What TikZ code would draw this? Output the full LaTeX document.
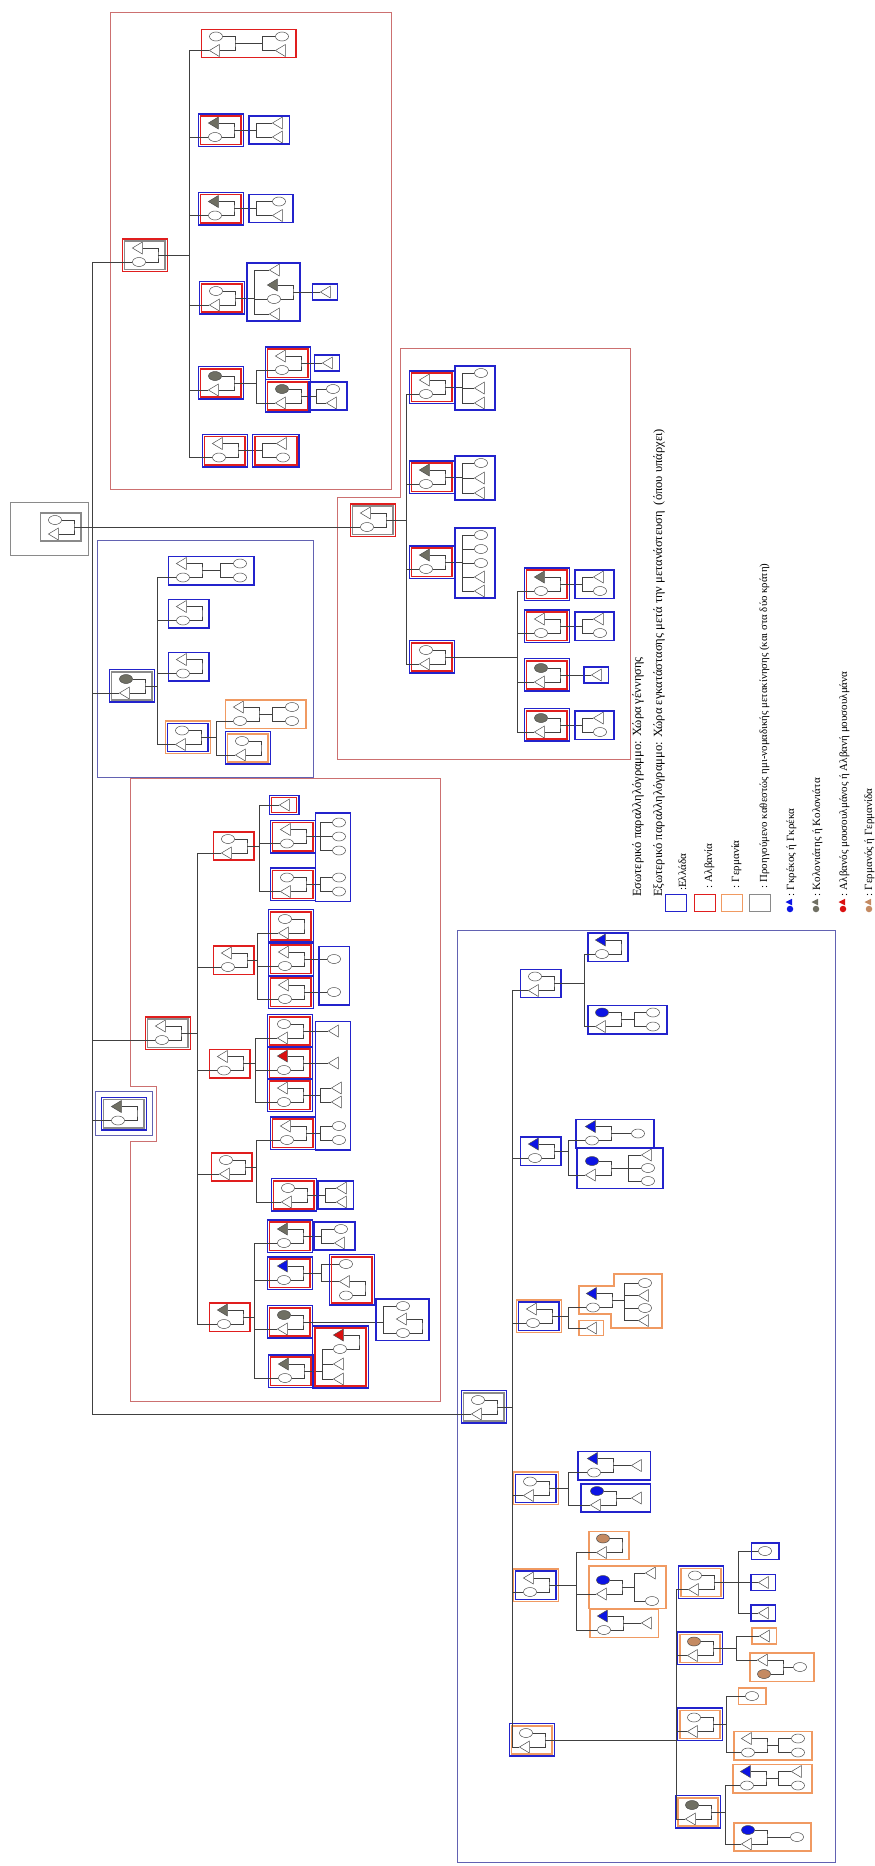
\documentclass[tikz,border=0pt]{standalone}
\usepackage{fontspec}
\setmainfont{Liberation Serif}
\usetikzlibrary{shapes.geometric}
\usetikzlibrary{fit}
\definecolor{BLUE}{HTML}{2323CC}
\definecolor{RED}{HTML}{E01E1E}
\definecolor{ORANGE}{HTML}{F09A62}
\definecolor{GREY}{HTML}{8A8A8A}
\definecolor{BLUE_F}{HTML}{0C14E4}
\definecolor{RED_F}{HTML}{DA1010}
\definecolor{GREY_F}{HTML}{6F6F63}
\definecolor{BROWN_F}{HTML}{C48A62}
\definecolor{RED_G}{HTML}{CC7070}
\definecolor{BLUE_G}{HTML}{6262B2}
\tikzset{
	every node/.style = {font=\fontsize{11}{13}\selectfont},
	pers/.style = {draw=black!70, line width=.5pt, fill=white, inner sep=0pt},
	fw/.style = {pers, ellipse, minimum width=13pt, minimum height=9pt},
	fg/.style = {fw, fill=GREY_F},
	fb/.style = {fw, fill=BLUE_F},
	fo/.style = {fw, fill=BROWN_F},
	mw/.style = {pers, isosceles triangle, shape border rotate=180,
		isosceles triangle stretches, minimum width=12pt, minimum height=10pt},
	mg/.style = {mw, fill=GREY_F},
	mb/.style = {mw, fill=BLUE_F},
	mr/.style = {mw, fill=RED_F},
	famb/.style = {draw=#1, line width=1.5pt, inner xsep=7pt, inner ysep=2.5pt},
	outb/.style = {draw=#1, line width=1.5pt, inner sep=1.6pt},
	grpb/.style = {draw=#1, line width=.9pt},
	ln/.style = {draw=black!75, line width=.7pt},
	lgtxt/.style = {rotate=90, anchor=base west, inner sep=0pt},
	lghead/.style = {lgtxt, font=\fontsize{12.5}{15}\selectfont},
	lgbox/.style = {draw=#1, line width=1.5pt, minimum width=21pt, minimum height=17pt, inner sep=0pt},
	lgf/.style = {circle, fill=#1, minimum size=6.5pt, inner sep=0pt},
	lgm/.style = {isosceles triangle, shape border rotate=180, isosceles triangle stretches,
		fill=#1, minimum width=6.5pt, minimum height=6.5pt, inner sep=0pt},
}
% couple: name, x, y, top person, bottom person
\newcommand{\cpl}[5]{%
	\node[#4] (#1t) at (#2,#3-7) {};
	\node[#5] (#1b) at (#2,#3+7) {};
	\coordinate (#1) at (#2+19,#3);
	\draw[ln] (#1t) -| (#1) |- (#1b);}
\newcommand{\onebox}[4][]{\node[famb=#3, #1, fit=#4] (#2) {};}
\newcommand{\twobox}[5][]{\node[famb=#3, #1, fit=#5] (#2) {};
	\node[outb=#4, fit=(#2)] (#2o) {};}
\newcommand{\lnk}[2]{\draw[ln] (#1) |- (#2);}

\begin{document}
\begin{tikzpicture}[x=1pt, y=-1pt]
	\path[use as bounding box, fill=white] (0,0) rectangle (875,1866);
	% group frames
	\draw[grpb=RED_G] (110,12) rectangle (391,489);
	\draw[grpb=RED_G] (400,348) -- (630,348) -- (630,759) -- (337,759) -- (337,497) -- (400,497) -- cycle;
	\draw[grpb=BLUE_G] (97,540) rectangle (313,777);
	\draw[grpb=RED_G] (130,778) -- (440,778) -- (440,1401) -- (130,1401) -- (130,1141)
		-- (156,1141) -- (156,1086) -- (130,1086) -- cycle;
	\draw[grpb=BLUE_G] (457,930) rectangle (835,1862);

	% root couple
	\cpl{root}{55}{527}{fw}{mw}
	\onebox{rootin}{GREY}{(roott)(rootb)(root)}
	\draw[grpb=GREY] ([shift={(-29.5,-10)}]rootin.north west) rectangle ([shift={(7,13.5)}]rootin.south east);
	\coordinate (trunk) at (92,527);
	\draw[ln] (root) -- (trunk);

	% top red group
	\cpl{g0}{139}{255}{mw}{fw}
	\twobox{g0in}{GREY}{RED}{(g0t)(g0b)(g0)}
	\coordinate (g0k) at (189,255);
	\draw[ln] (g0) -- (g0k);
	\lnk{trunk}{g0b}
	\cpl{c01}{216}{43.5}{fw}{mw}
	\node[fw] (c01x) at (282,36.5) {};
	\node[mw] (c01y) at (282,50.5) {};
	\coordinate (c01k) at (262,43.5);
	\draw[ln] (c01) -- (c01k);
	\lnk{c01k}{c01x}\lnk{c01k}{c01y}
	\onebox{c01in}{RED}{(c01t)(c01b)(c01x)(c01y)}
	\cpl{c02}{215}{130}{mg}{fw}
	\twobox{c02in}{RED}{BLUE}{(c02t)(c02b)(c02)}
	\node[mw] (c02x) at (279,123) {};
	\node[mw] (c02y) at (279,137) {};
	\coordinate (c02k) at (256,130);
	\draw[ln] (c02) -- (c02k);
	\lnk{c02k}{c02x}\lnk{c02k}{c02y}
	\onebox{c02kb}{BLUE}{(c02k)(c02x)(c02y)}
	\cpl{c03}{215}{208.5}{mg}{fw}
	\twobox{c03in}{RED}{BLUE}{(c03t)(c03b)(c03)}
	\node[fw] (c03x) at (279,201.5) {};
	\node[mw] (c03y) at (279,215.5) {};
	\coordinate (c03k) at (256,208.5);
	\draw[ln] (c03) -- (c03k);
	\lnk{c03k}{c03x}\lnk{c03k}{c03y}
	\onebox{c03kb}{BLUE}{(c03k)(c03x)(c03y)}
	\cpl{c04}{216}{298}{fw}{mw}
	\twobox{c04in}{RED}{BLUE}{(c04t)(c04b)(c04)}
	\coordinate (c04k) at (254,298);
	\draw[ln] (c04) -- (c04k);
	\node[mw] (c04x) at (276,270) {};
	\cpl{c04p}{274}{292}{mg}{fw}
	\node[mw] (c04y) at (276,314) {};
	\lnk{c04k}{c04x}\lnk{c04k}{c04pb}\lnk{c04k}{c04y}
	\onebox{c04kb}{BLUE}{(c04k)(c04x)(c04pt)(c04pb)(c04p)(c04y)}
	\node[mw] (c04pz) at (327,292) {};
	\draw[ln] (c04p) -- (c04pz);
	\onebox[inner ysep=3.5pt]{c04pzb}{BLUE}{(c04pz)}
	\cpl{c05}{215}{383}{fg}{mw}
	\twobox{c05in}{RED}{BLUE}{(c05t)(c05b)(c05)}
	\coordinate (c05k) at (256,383);
	\draw[ln] (c05) -- (c05k);
	\cpl{c05p}{282}{363}{mw}{fw}
	\twobox{c05pin}{RED}{BLUE}{(c05pt)(c05pb)(c05p)}
	\node[mw] (c05pz) at (329,363) {};
	\draw[ln] (c05p) -- (c05pz);
	\onebox[inner ysep=3.5pt]{c05pzb}{BLUE}{(c05pz)}
	\cpl{c05q}{282}{396}{fg}{mw}
	\twobox{c05qin}{RED}{BLUE}{(c05qt)(c05qb)(c05q)}
	\node[fw] (c05qx) at (333,389) {};
	\node[mw] (c05qy) at (333,403) {};
	\coordinate (c05qk) at (316,396);
	\draw[ln] (c05q) -- (c05qk);
	\lnk{c05qk}{c05qx}\lnk{c05qk}{c05qy}
	\onebox{c05qkb}{BLUE}{(c05qk)(c05qx)(c05qy)}
	\lnk{c05k}{c05pb}\lnk{c05k}{c05qb}
	\cpl{c06}{219}{450.5}{mw}{fw}
	\twobox{c06in}{RED}{BLUE}{(c06t)(c06b)(c06)}
	\node[mw] (c06x) at (283,443.5) {};
	\node[fw] (c06y) at (283,457.5) {};
	\coordinate (c06k) at (262,450.5);
	\draw[ln] (c06) -- (c06k);
	\lnk{c06k}{c06x}\lnk{c06k}{c06y}
	\twobox{c06kb}{RED}{BLUE}{(c06k)(c06x)(c06y)}
	\lnk{g0k}{c01b}\lnk{g0k}{c02b}\lnk{g0k}{c03b}
	\lnk{g0k}{c04b}\lnk{g0k}{c05b}\lnk{g0k}{c06b}

	% upper right red group
	\cpl{g3}{367}{520}{mw}{fw}
	\twobox{g3in}{GREY}{RED}{(g3t)(g3b)(g3)}
	\coordinate (g3k) at (406,520);
	\draw[ln] (g3) -- (g3k);
	\lnk{trunk}{g3b}
	\cpl{c31}{426}{387}{mw}{fw}
	\twobox{c31in}{RED}{BLUE}{(c31t)(c31b)(c31)}
	\coordinate (c31k) at (462,387);
	\draw[ln] (c31) -- (c31k);
	\node[fw] (c31x) at (481,373) {};
	\node[mw] (c31y) at (481,388) {};
	\node[mw] (c31z) at (481,403) {};
	\lnk{c31k}{c31x}\lnk{c31k}{c31y}\lnk{c31k}{c31z}
	\onebox{c31kb}{BLUE}{(c31k)(c31x)(c31y)(c31z)}
	\cpl{c32}{426}{477}{mg}{fw}
	\twobox{c32in}{RED}{BLUE}{(c32t)(c32b)(c32)}
	\coordinate (c32k) at (462,477);
	\draw[ln] (c32) -- (c32k);
	\node[fw] (c32x) at (481,463) {};
	\node[mw] (c32y) at (481,478) {};
	\node[mw] (c32z) at (481,493) {};
	\lnk{c32k}{c32x}\lnk{c32k}{c32y}\lnk{c32k}{c32z}
	\onebox{c32kb}{BLUE}{(c32k)(c32x)(c32y)(c32z)}
	\cpl{c33}{426}{562}{mg}{fw}
	\twobox{c33in}{RED}{BLUE}{(c33t)(c33b)(c33)}
	\coordinate (c33k) at (462,562);
	\draw[ln] (c33) -- (c33k);
	\node[fw] (c33v) at (481,535) {};
	\node[fw] (c33w) at (481,549) {};
	\node[fw] (c33x) at (481,563) {};
	\node[mw] (c33y) at (481,577) {};
	\node[mw] (c33z) at (481,591) {};
	\lnk{c33k}{c33v}\lnk{c33k}{c33w}\lnk{c33k}{c33x}\lnk{c33k}{c33y}\lnk{c33k}{c33z}
	\onebox{c33kb}{BLUE}{(c33k)(c33v)(c33z)(c33x)}
	\cpl{c34}{426}{657}{fw}{mw}
	\twobox{c34in}{RED}{BLUE}{(c34t)(c34b)(c34)}
	\coordinate (c34k) at (517,657);
	\draw[ln] (c34) -- (c34k);
	\cpl{c341}{541}{584}{mg}{fw}
	\twobox{c341in}{RED}{BLUE}{(c341t)(c341b)(c341)}
	\node[mw] (c341x) at (600,577) {};
	\node[fw] (c341y) at (600,591) {};
	\coordinate (c341k) at (582,584);
	\draw[ln] (c341) -- (c341k);
	\lnk{c341k}{c341x}\lnk{c341k}{c341y}
	\onebox{c341kb}{BLUE}{(c341k)(c341x)(c341y)}
	\cpl{c342}{541}{626}{mw}{fw}
	\twobox{c342in}{RED}{BLUE}{(c342t)(c342b)(c342)}
	\node[mw] (c342x) at (600,619) {};
	\node[fw] (c342y) at (600,633) {};
	\coordinate (c342k) at (582,626);
	\draw[ln] (c342) -- (c342k);
	\lnk{c342k}{c342x}\lnk{c342k}{c342y}
	\onebox{c342kb}{BLUE}{(c342k)(c342x)(c342y)}
	\cpl{c343}{541}{675}{fg}{mw}
	\twobox{c343in}{RED}{BLUE}{(c343t)(c343b)(c343)}
	\node[mw] (c343z) at (598,675) {};
	\draw[ln] (c343) -- (c343z);
	\onebox[inner ysep=3.5pt]{c343zb}{BLUE}{(c343z)}
	\cpl{c344}{541}{725}{fg}{mw}
	\twobox{c344in}{RED}{BLUE}{(c344t)(c344b)(c344)}
	\node[mw] (c344x) at (600,718) {};
	\node[fw] (c344y) at (600,732) {};
	\coordinate (c344k) at (582,725);
	\draw[ln] (c344) -- (c344k);
	\lnk{c344k}{c344x}\lnk{c344k}{c344y}
	\onebox{c344kb}{BLUE}{(c344k)(c344x)(c344y)}
	\lnk{c34k}{c341b}\lnk{c34k}{c342b}\lnk{c34k}{c343b}\lnk{c34k}{c344b}
	\lnk{g3k}{c31b}\lnk{g3k}{c32b}\lnk{g3k}{c33b}\lnk{g3k}{c34b}

	% blue group
	\cpl{g2}{126}{686}{fg}{mw}
	\twobox{g2in}{GREY}{BLUE}{(g2t)(g2b)(g2)}
	\coordinate (g2k) at (157,686);
	\draw[ln] (g2) -- (g2k);
	\lnk{trunk}{g2b}
	\cpl{c21}{183}{570.5}{mw}{fw}
	\node[fw] (c21x) at (240,563.5) {};
	\node[fw] (c21y) at (240,577.5) {};
	\coordinate (c21k) at (220,570.5);
	\draw[ln] (c21) -- (c21k);
	\lnk{c21k}{c21x}\lnk{c21k}{c21y}
	\onebox{c21in}{BLUE}{(c21t)(c21b)(c21x)(c21y)}
	\cpl{c22}{183}{613.5}{mw}{fw}
	\onebox{c22in}{BLUE}{(c22t)(c22b)(c22)}
	\cpl{c23}{183}{666.5}{mw}{fw}
	\onebox{c23in}{BLUE}{(c23t)(c23b)(c23)}
	\cpl{c24}{182}{737.5}{fw}{mw}
	\twobox{c24in}{BLUE}{ORANGE}{(c24t)(c24b)(c24)}
	\coordinate (c24k) at (216,737.5);
	\draw[ln] (c24) -- (c24k);
	\cpl{c24p}{240}{714}{mw}{fw}
	\node[fw] (c24px) at (292,707) {};
	\node[fw] (c24py) at (292,721) {};
	\coordinate (c24pk) at (272,714);
	\draw[ln] (c24p) -- (c24pk);
	\lnk{c24pk}{c24px}\lnk{c24pk}{c24py}
	\onebox{c24pin}{ORANGE}{(c24pt)(c24pb)(c24px)(c24py)}
	\cpl{c24q}{242}{748}{fw}{mw}
	\twobox{c24qin}{ORANGE}{BLUE}{(c24qt)(c24qb)(c24q)}
	\lnk{c24k}{c24pb}\lnk{c24k}{c24qb}
	\lnk{g2k}{c21b}\lnk{g2k}{c22b}\lnk{g2k}{c23b}\lnk{g2k}{c24b}

	% single family by the trunk
	\cpl{g1}{118}{1113.5}{mg}{fw}
	\twobox{g1in}{GREY}{BLUE}{(g1t)(g1b)(g1)}
	\node[grpb=BLUE_G, inner sep=5pt, fit=(g1ino)] (g1fr) {};
	\lnk{trunk}{g1b}

	% lower left red group
	\cpl{g4}{162}{1033}{mw}{fw}
	\twobox{g4in}{GREY}{RED}{(g4t)(g4b)(g4)}
	\coordinate (g4k) at (197,1033);
	\draw[ln] (g4) -- (g4k);
	\lnk{trunk}{g4b}
	\cpl{g41}{228}{846}{fw}{mw}
	\onebox{g41in}{RED}{(g41t)(g41b)(g41)}
	\coordinate (g41k) at (259,846);
	\draw[ln] (g41) -- (g41k);
	\node[mw] (k411) at (286,805) {};
	\twobox[inner ysep=3pt]{k411in}{RED}{BLUE}{(k411)}
	\cpl{c412}{287}{836.5}{mw}{fw}
	\twobox{c412in}{RED}{BLUE}{(c412t)(c412b)(c412)}
	\coordinate (c412k) at (320,836.5);
	\draw[ln] (c412) -- (c412k);
	\node[fw] (c412x) at (339,822.5) {};
	\node[fw] (c412y) at (339,836.5) {};
	\node[fw] (c412z) at (339,850.5) {};
	\lnk{c412k}{c412x}\lnk{c412k}{c412y}\lnk{c412k}{c412z}
	\cpl{c413}{287}{884.5}{fw}{mw}
	\twobox{c413in}{RED}{BLUE}{(c413t)(c413b)(c413)}
	\coordinate (c413k) at (320,884.5);
	\draw[ln] (c413) -- (c413k);
	\node[fw] (c413x) at (339,877.5) {};
	\node[fw] (c413y) at (339,891.5) {};
	\lnk{c413k}{c413x}\lnk{c413k}{c413y}
	\onebox[inner xsep=4.5pt, inner ysep=5pt]{g41kb}{BLUE}{(c412k)(c412x)(c412z)(c413k)(c413x)(c413y)}
	\lnk{g41k}{k411}\lnk{g41k}{c412b}\lnk{g41k}{c413b}
	\cpl{g42}{228}{960}{mw}{fw}
	\onebox{g42in}{RED}{(g42t)(g42b)(g42)}
	\coordinate (g42k) at (257,960);
	\draw[ln] (g42) -- (g42k);
	\cpl{c421}{285}{926}{fw}{mw}
	\twobox{c421in}{RED}{BLUE}{(c421t)(c421b)(c421)}
	\cpl{c422}{285}{959}{mw}{fw}
	\twobox{c422in}{RED}{BLUE}{(c422t)(c422b)(c422)}
	\node[fw] (c422z) at (334,959) {};
	\draw[ln] (c422) -- (c422z);
	\cpl{c423}{285}{992}{mw}{fw}
	\twobox{c423in}{RED}{BLUE}{(c423t)(c423b)(c423)}
	\node[fw] (c423z) at (334,992) {};
	\draw[ln] (c423) -- (c423z);
	\onebox[inner xsep=8.5pt, inner ysep=8pt]{g42kb}{BLUE}{(c422z)(c423z)}
	\lnk{g42k}{c421b}\lnk{g42k}{c422b}\lnk{g42k}{c423b}
	\cpl{g43}{224}{1063.5}{mw}{fw}
	\onebox{g43in}{RED}{(g43t)(g43b)(g43)}
	\coordinate (g43k) at (255,1063.5);
	\draw[ln] (g43) -- (g43k);
	\cpl{c431}{284}{1031}{fw}{mw}
	\twobox{c431in}{RED}{BLUE}{(c431t)(c431b)(c431)}
	\node[mw] (c431z) at (335,1031) {};
	\draw[ln] (c431) -- (c431z);
	\cpl{c432}{284}{1063}{mr}{fw}
	\twobox{c432in}{RED}{BLUE}{(c432t)(c432b)(c432)}
	\node[mw] (c432z) at (335,1063) {};
	\draw[ln] (c432) -- (c432z);
	\cpl{c433}{284}{1095}{mw}{fw}
	\twobox{c433in}{RED}{BLUE}{(c433t)(c433b)(c433)}
	\coordinate (c433k) at (320,1095);
	\draw[ln] (c433) -- (c433k);
	\node[mw] (c433x) at (338,1088) {};
	\node[mw] (c433y) at (338,1102) {};
	\lnk{c433k}{c433x}\lnk{c433k}{c433y}
	\lnk{g43k}{c431b}\lnk{g43k}{c432b}\lnk{g43k}{c433b}
	\cpl{g44}{226}{1167}{fw}{mw}
	\onebox{g44in}{RED}{(g44t)(g44b)(g44)}
	\coordinate (g44k) at (256,1167);
	\draw[ln] (g44) -- (g44k);
	\cpl{c441}{287}{1133}{mw}{fw}
	\twobox{c441in}{RED}{BLUE}{(c441t)(c441b)(c441)}
	\coordinate (c441k) at (320,1133);
	\draw[ln] (c441) -- (c441k);
	\node[fw] (c441x) at (339,1126) {};
	\node[fw] (c441y) at (339,1140) {};
	\lnk{c441k}{c441x}\lnk{c441k}{c441y}
	\onebox[inner xsep=4.5pt, inner ysep=5pt]{g43kb}{BLUE}{(c431z)(c432z)(c433k)(c433x)(c433y)(c441k)(c441x)(c441y)}
	\cpl{c442}{288}{1195}{fw}{mw}
	\twobox{c442in}{RED}{BLUE}{(c442t)(c442b)(c442)}
	\coordinate (c442k) at (325,1195);
	\draw[ln] (c442) -- (c442k);
	\node[mw] (c442x) at (343,1188) {};
	\node[mw] (c442y) at (343,1202) {};
	\lnk{c442k}{c442x}\lnk{c442k}{c442y}
	\onebox{c442kb}{BLUE}{(c442k)(c442x)(c442y)}
	\lnk{g44k}{c441b}\lnk{g44k}{c442b}
	\cpl{g45}{224}{1317}{mg}{fw}
	\onebox{g45in}{RED}{(g45t)(g45b)(g45)}
	\coordinate (g45k) at (254,1317);
	\draw[ln] (g45) -- (g45k);
	\cpl{c451}{284}{1236}{mg}{fw}
	\twobox{c451in}{RED}{BLUE}{(c451t)(c451b)(c451)}
	\coordinate (c451k) at (321,1236);
	\draw[ln] (c451) -- (c451k);
	\node[fw] (c451x) at (341,1229) {};
	\node[mw] (c451y) at (341,1243) {};
	\lnk{c451k}{c451x}\lnk{c451k}{c451y}
	\onebox{c451kb}{BLUE}{(c451k)(c451x)(c451y)}
	\cpl{c452}{284}{1273}{mb}{fw}
	\twobox{c452in}{RED}{BLUE}{(c452t)(c452b)(c452)}
	\coordinate (c452k) at (321,1273);
	\draw[ln] (c452) -- (c452k);
	\node[fw] (c452x) at (346,1264) {};
	\cpl{c452p}{346}{1288.5}{mw}{fw}
	\lnk{c452k}{c452x}\lnk{c452k}{c452pt}
	\twobox{c452kb}{RED}{BLUE}{(c452x)(c452pt)(c452pb)(c452p)}
	\cpl{c453}{284}{1322}{fg}{mw}
	\twobox{c453in}{RED}{BLUE}{(c453t)(c453b)(c453)}
	\coordinate (c453k) at (383,1322);
	\draw[ln] (c453) -- (c453k);
	\node[fw] (c453x) at (403,1306) {};
	\cpl{c453p}{403}{1326}{mw}{fw}
	\lnk{c453k}{c453x}\lnk{c453k}{c453pb}
	\onebox{c453kb}{BLUE}{(c453k)(c453x)(c453pt)(c453pb)(c453p)}
	\cpl{c454}{285}{1371}{mg}{fw}
	\twobox{c454in}{RED}{BLUE}{(c454t)(c454b)(c454)}
	\coordinate (c454k) at (322,1371);
	\draw[ln] (c454) -- (c454k);
	\cpl{c454p}{340}{1342}{mr}{fw}
	\node[mw] (c454x) at (340,1364) {};
	\node[mw] (c454y) at (340,1379) {};
	\lnk{c454k}{c454pb}\lnk{c454k}{c454x}\lnk{c454k}{c454y}
	\twobox{c454kb}{RED}{BLUE}{(c454k)(c454pt)(c454p)(c454y)}
	\lnk{g45k}{c451b}\lnk{g45k}{c452b}\lnk{g45k}{c453b}\lnk{g45k}{c454b}
	\lnk{g4k}{g41b}\lnk{g4k}{g42b}\lnk{g4k}{g43b}\lnk{g4k}{g44b}\lnk{g4k}{g45b}

	% bottom blue group
	\cpl{g5}{478}{1407}{fw}{mw}
	\twobox{g5in}{GREY}{BLUE}{(g5t)(g5b)(g5)}
	\coordinate (g5k) at (512,1407);
	\draw[ln] (g5) -- (g5k);
	\lnk{trunk}{g5b}
	\cpl{c51}{535}{983.5}{fw}{mw}
	\onebox{c51in}{BLUE}{(c51t)(c51b)(c51)}
	\coordinate (c51k) at (584,983.5);
	\draw[ln] (c51) -- (c51k);
	\cpl{c511}{602}{947}{mb}{fw}
	\onebox{c511in}{BLUE}{(c511t)(c511b)(c511)}
	\cpl{c512}{602}{1019.5}{fb}{mw}
	\node[fw] (c512x) at (653,1012.5) {};
	\node[fw] (c512y) at (653,1026.5) {};
	\coordinate (c512k) at (634,1019.5);
	\draw[ln] (c512) -- (c512k);
	\lnk{c512k}{c512x}\lnk{c512k}{c512y}
	\onebox{c512in}{BLUE}{(c512t)(c512b)(c512x)(c512y)}
	\lnk{c51k}{c511b}\lnk{c51k}{c512b}
	\cpl{c52}{535}{1151}{mb}{fw}
	\onebox{c52in}{BLUE}{(c52t)(c52b)(c52)}
	\coordinate (c52k) at (568,1151);
	\draw[ln] (c52) -- (c52k);
	\cpl{c521}{592}{1133.5}{mb}{fw}
	\node[fw] (c521z) at (638,1133.5) {};
	\draw[ln] (c521) -- (c521z);
	\onebox[inner xsep=9pt]{c521in}{BLUE}{(c521t)(c521b)(c521z)}
	\cpl{c522}{592}{1168}{fb}{mw}
	\node[mw] (c522x) at (648,1155) {};
	\node[fw] (c522y) at (648,1168) {};
	\node[fw] (c522z) at (648,1181) {};
	\coordinate (c522k) at (628,1168);
	\draw[ln] (c522) -- (c522k);
	\lnk{c522k}{c522x}\lnk{c522k}{c522y}\lnk{c522k}{c522z}
	\onebox[inner xsep=8pt]{c522in}{BLUE}{(c522t)(c522b)(c522x)(c522z)}
	\lnk{c52k}{c521b}\lnk{c52k}{c522b}
	\cpl{c53}{533}{1316}{mw}{fw}
	\twobox{c53in}{BLUE}{ORANGE}{(c53t)(c53b)(c53)}
	\coordinate (c53k) at (568,1316);
	\draw[ln] (c53) -- (c53k);
	\cpl{c531}{593}{1300.5}{mb}{fw}
	\coordinate (c531k) at (624,1300.5);
	\draw[ln] (c531) -- (c531k);
	\node[fw] (c531v) at (645,1283) {};
	\node[mw] (c531w) at (645,1295.5) {};
	\node[fw] (c531x) at (645,1308) {};
	\node[mw] (c531y) at (645,1320.5) {};
	\lnk{c531k}{c531v}\lnk{c531k}{c531w}\lnk{c531k}{c531x}\lnk{c531k}{c531y}
	\draw[famb=ORANGE] (579,1286) -- (614,1286) -- (614,1274) -- (662,1274) -- (662,1328)
		-- (611,1328) -- (611,1314) -- (579,1314) -- cycle;
	\node[mw] (k532) at (593,1328) {};
	\onebox[inner ysep=3pt]{k532in}{ORANGE}{(k532)}
	\lnk{c53k}{c531b}\lnk{c53k}{k532}
	\cpl{c54}{530}{1488.5}{fw}{mw}
	\twobox{c54in}{BLUE}{ORANGE}{(c54t)(c54b)(c54)}
	\coordinate (c54k) at (568,1488.5);
	\draw[ln] (c54) -- (c54k);
	\cpl{c541}{594}{1465.5}{mb}{fw}
	\node[mw] (c541z) at (638,1465.5) {};
	\draw[ln] (c541) -- (c541z);
	\onebox[inner xsep=9pt]{c541in}{BLUE}{(c541t)(c541b)(c541z)}
	\cpl{c542}{597}{1498}{fb}{mw}
	\node[mw] (c542z) at (638,1498) {};
	\draw[ln] (c542) -- (c542z);
	\onebox[inner xsep=9pt]{c542in}{BLUE}{(c542t)(c542b)(c542z)}
	\lnk{c54k}{c541b}\lnk{c54k}{c542b}
	\cpl{c55}{530}{1585}{mw}{fw}
	\twobox{c55in}{BLUE}{ORANGE}{(c55t)(c55b)(c55)}
	\coordinate (c55k) at (576,1585);
	\draw[ln] (c55) -- (c55k);
	\cpl{c551}{603}{1545.5}{fo}{mw}
	\onebox{c551in}{ORANGE}{(c551t)(c551b)(c551)}
	\cpl{c552}{603}{1587}{fb}{mw}
	\node[mw] (c552x) at (652,1573) {};
	\node[fw] (c552y) at (652,1601) {};
	\coordinate (c552k) at (634,1587);
	\draw[ln] (c552) -- (c552k);
	\lnk{c552k}{c552x}\lnk{c552k}{c552y}
	\onebox{c552in}{ORANGE}{(c552t)(c552b)(c552x)(c552y)}
	\cpl{c553}{604}{1623}{mb}{fw}
	\node[mw] (c553z) at (648,1623) {};
	\draw[ln] (c553) -- (c553z);
	\onebox{c553in}{ORANGE}{(c553t)(c553b)(c553z)}
	\lnk{c55k}{c551b}\lnk{c55k}{c552b}\lnk{c55k}{c553b}
	\cpl{c56}{526}{1740}{fw}{mw}
	\twobox{c56in}{ORANGE}{BLUE}{(c56t)(c56b)(c56)}
	\coordinate (c56k) at (676,1740);
	\draw[ln] (c56) -- (c56k);
	\cpl{c561}{695}{1582.5}{fw}{mw}
	\twobox{c561in}{ORANGE}{BLUE}{(c561t)(c561b)(c561)}
	\coordinate (c561k) at (738,1582.5);
	\draw[ln] (c561) -- (c561k);
	\node[fw] (c561x) at (765,1551) {};
	\node[mw] (c561y) at (765,1582.5) {};
	\node[mw] (c561z) at (765,1613) {};
	\lnk{c561k}{c561x}\lnk{c561k}{c561y}\lnk{c561k}{c561z}
	\onebox[inner ysep=3.5pt]{c561xb}{BLUE}{(c561x)}
	\onebox[inner ysep=3.5pt]{c561yb}{BLUE}{(c561y)}
	\onebox[inner ysep=3.5pt]{c561zb}{BLUE}{(c561z)}
	\cpl{c562}{694}{1648.5}{fo}{mw}
	\twobox{c562in}{ORANGE}{BLUE}{(c562t)(c562b)(c562)}
	\coordinate (c562k) at (736,1648.5);
	\draw[ln] (c562) -- (c562k);
	\node[mw] (c562x) at (766,1636) {};
	\onebox[inner ysep=3.5pt]{c562xb}{ORANGE}{(c562x)}
	\cpl{c562p}{764}{1667}{mw}{fo}
	\node[fw] (c562pz) at (800,1667) {};
	\draw[ln] (c562p) -- (c562pz);
	\onebox{c562pin}{ORANGE}{(c562pt)(c562pb)(c562pz)}
	\lnk{c562k}{c562x}\lnk{c562k}{c562pt}
	\cpl{c563}{694}{1724.5}{fw}{mw}
	\twobox{c563in}{ORANGE}{BLUE}{(c563t)(c563b)(c563)}
	\coordinate (c563k) at (726,1724.5);
	\draw[ln] (c563) -- (c563k);
	\node[fw] (c563x) at (752,1696) {};
	\onebox[inner ysep=3.5pt]{c563xb}{ORANGE}{(c563x)}
	\cpl{c563p}{748}{1745.5}{mw}{fw}
	\coordinate (c563pk) at (778,1745.5);
	\draw[ln] (c563p) -- (c563pk);
	\node[fw] (c563px) at (798,1738.5) {};
	\node[fw] (c563py) at (798,1752.5) {};
	\lnk{c563pk}{c563px}\lnk{c563pk}{c563py}
	\onebox{c563pin}{ORANGE}{(c563pt)(c563pb)(c563px)(c563py)}
	\lnk{c563k}{c563x}\lnk{c563k}{c563pb}
	\cpl{c564}{692}{1812}{fg}{mw}
	\twobox{c564in}{ORANGE}{BLUE}{(c564t)(c564b)(c564)}
	\coordinate (c564k) at (725,1812);
	\draw[ln] (c564) -- (c564k);
	\cpl{c564p}{747}{1778.5}{mb}{fw}
	\coordinate (c564pk) at (778,1778.5);
	\draw[ln] (c564p) -- (c564pk);
	\node[mw] (c564px) at (798,1771.5) {};
	\node[fw] (c564py) at (798,1785.5) {};
	\lnk{c564pk}{c564px}\lnk{c564pk}{c564py}
	\onebox{c564pin}{ORANGE}{(c564pt)(c564pb)(c564px)(c564py)}
	\cpl{c564q}{748}{1837}{fb}{mw}
	\node[fw] (c564qz) at (797,1837) {};
	\draw[ln] (c564q) -- (c564qz);
	\onebox{c564qin}{ORANGE}{(c564qt)(c564qb)(c564qz)}
	\lnk{c564k}{c564pb}\lnk{c564k}{c564qb}
	\lnk{c56k}{c561b}\lnk{c56k}{c562b}\lnk{c56k}{c563b}\lnk{c56k}{c564b}
	\lnk{g5k}{c51b}\lnk{g5k}{c52b}\lnk{g5k}{c53b}\lnk{g5k}{c54b}\lnk{g5k}{c55b}\lnk{g5k}{c56b}

	% legend
	\node[lghead] (lgin) at (641,897) {Εσωτερικό παραλληλόγραμμο: Χώρα γέννησης};
	\node[lghead] (lgout) at (662,897) {Εξωτερικό παραλληλόγραμμο: Χώρα εγκατάστασης μετά την μετανάστευση\enspace (όπου υπάρχει)};
	\node[lgbox=BLUE] (lgGR) at (676,903) {};
	\node[lgtxt] (lgGRt) at (686,891) {:Ελλάδα};
	\node[lgbox=RED] (lgAL) at (705,903) {};
	\node[lgtxt] (lgALt) at (712,889) {: Αλβανία};
	\node[lgbox=ORANGE] (lgDE) at (732,903) {};
	\node[lgtxt] (lgDEt) at (739,889) {: Γερμανία};
	\node[lgbox=GREY] (lgNM) at (760,903) {};
	\node[lgtxt, font=\fontsize{10.8}{13}\selectfont] (lgNMt) at (767,889) {: Προηγούμενο καθεστώς ημι-νομαδικής μετακίνησης (και στα δύο κράτη)};
	\node[lgf=BLUE_F] (lgf1) at (790,909) {};
	\node[lgm=BLUE_F] (lgm1) at (790,902) {};
	\node[lgtxt] (lgt1) at (794,897) {: Γκρέκος ή Γκρέκα};
	\node[lgf=GREY_F] (lgf2) at (816,909) {};
	\node[lgm=GREY_F] (lgm2) at (816,902) {};
	\node[lgtxt] (lgt2) at (820,897) {: Κολονιάτης ή Κολονιάτα};
	\node[lgf=RED_F] (lgf3) at (843,909) {};
	\node[lgm=RED_F] (lgm3) at (843,902) {};
	\node[lgtxt] (lgt3) at (847,897) {: Αλβανός μουσουλμάνος ή Αλβανή μουσουλμάνα};
	\node[lgf=BROWN_F] (lgf4) at (869,909) {};
	\node[lgm=BROWN_F] (lgm4) at (869,902) {};
	\node[lgtxt] (lgt4) at (872,897) {: Γερμανός ή Γερμανίδα};
\end{tikzpicture}
\end{document}
